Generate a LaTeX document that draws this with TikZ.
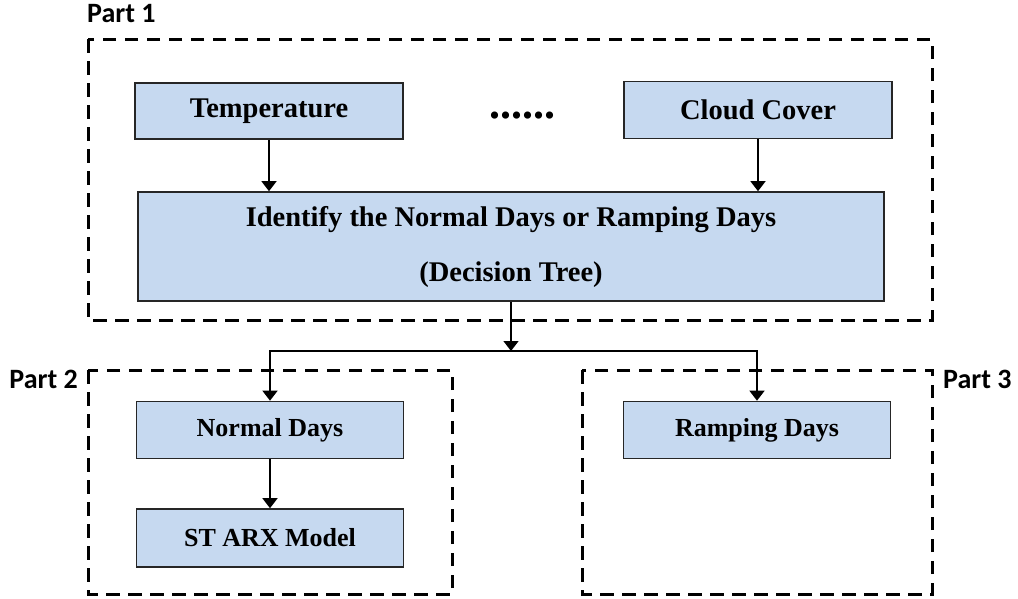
\documentclass[tikz,border=0pt]{standalone}
\usepackage{fontspec}
\setmainfont{Liberation Serif}
\newfontfamily\partfont{Carlito}
\usetikzlibrary{arrows.meta}
\definecolor{boxblue}{RGB}{198,217,240}

\begin{document}
\begin{tikzpicture}[x=1pt,y=-1pt,
  blockbox/.style={draw=black!85, line width=1.6pt, fill=boxblue, align=center, inner sep=0pt,
    font=\bfseries\fontsize{28.5}{34}\selectfont},
  smallbox/.style={blockbox, minimum width=267pt, minimum height=57pt,
    font=\bfseries\fontsize{26}{30}\selectfont},
  partbox/.style={draw, line width=3pt, dash pattern=on 13.5pt off 8.5pt},
  partlabel/.style={font=\partfont\bfseries\fontsize{28}{32}\selectfont, inner sep=0pt},
  link/.style={line width=1.4pt, -{Triangle[length=10pt,width=15pt]}}]

\useasboundingbox (0,0) rectangle (1018,598);

\draw[partbox]  (88,39) rectangle (932,320);
\draw[partbox]  (88,370) rectangle (452,594);
\draw[partbox]  (582,370) rectangle (932,594);

\node[partlabel, anchor=base west] (lab1) at (87,22.7) {Part 1};
\node[partlabel, anchor=base east] (lab2) at (78,388) {Part 2};
\node[partlabel, anchor=base west] (lab3) at (943,388) {Part 3};

\node[blockbox, minimum width=268pt, minimum height=56pt] (temp) at (269,111) {Temperature};
\node[blockbox, minimum width=268pt, minimum height=57pt] (cloud) at (758,110) {Cloud Cover};
\node[font=\bfseries\fontsize{44}{44}\selectfont, inner sep=0pt, anchor=base] (dots) at (522,118.5) {......};
\node[blockbox, minimum width=746pt, minimum height=109pt, font=\bfseries\fontsize{28.5}{55}\selectfont] (ident) at (511,246.5) {Identify the Normal Days or Ramping Days\\(Decision Tree)};

\node[smallbox] (normal) at (270,430) {Normal Days};
\node[smallbox, minimum height=58pt] (armodel) at (270,538) {ST ARX Model};
\node[smallbox] (ramping) at (757,430) {Ramping Days};

\coordinate (split) at (511,351);

\draw[link] (temp) -- (temp |- ident.north);
\draw[link] (cloud) -- (cloud |- ident.north);
\draw[link] (ident.south) -- (split);
\draw[link] (split) -| (normal.north);
\draw[link] (split) -| (ramping.north);
\draw[link] (normal) -- (armodel);
\end{tikzpicture}
\end{document}
